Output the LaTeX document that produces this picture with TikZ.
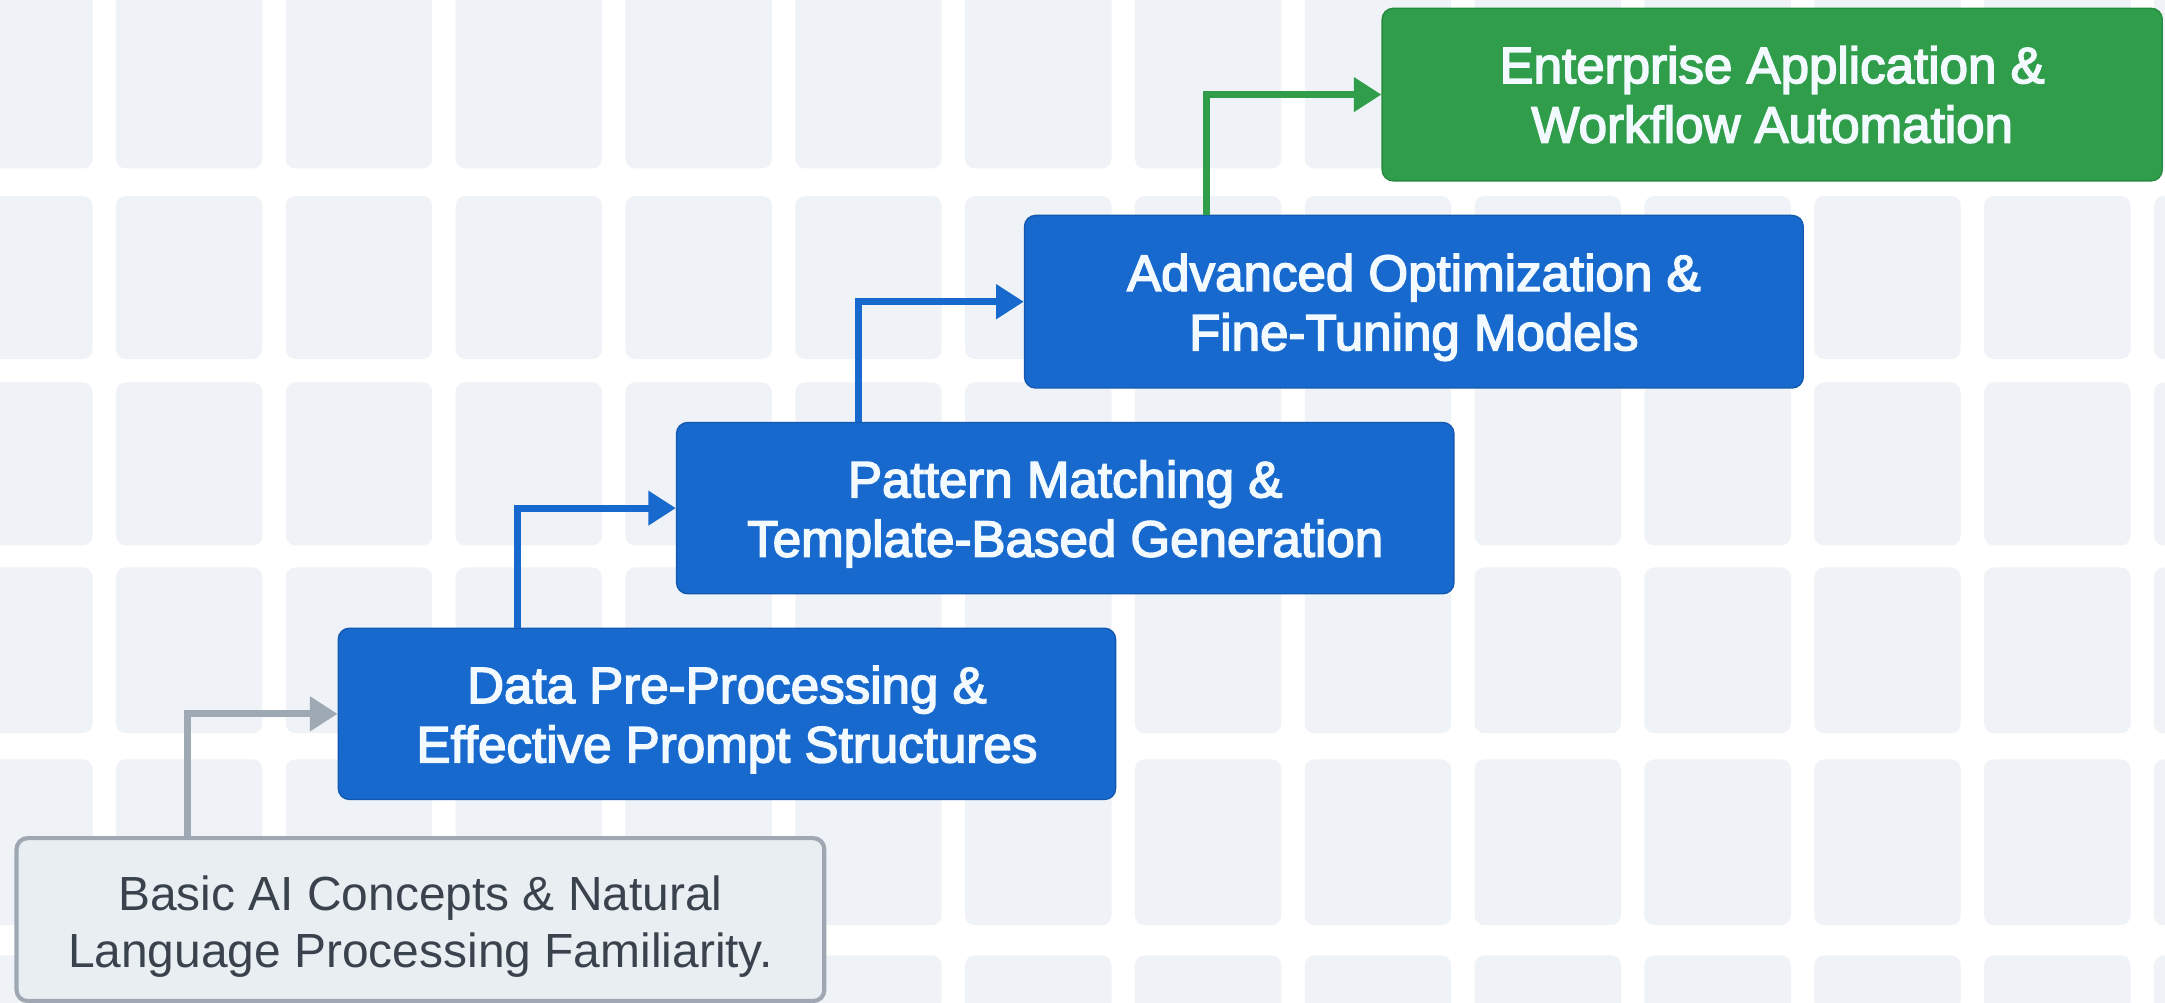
\documentclass[tikz,border=0pt]{standalone}
\usepackage{fontspec}
\setmainfont{Liberation Sans}
\newfontfamily\semib[FakeBold=3]{Liberation Sans}
\usetikzlibrary{arrows.meta}
\definecolor{tilec}{HTML}{EFF2F6}
\definecolor{stepblue}{HTML}{1869CD}
\definecolor{stepblueD}{HTML}{1459B0}
\definecolor{stepgreen}{HTML}{2F9D4A}
\definecolor{stepgreenD}{HTML}{268A3F}
\definecolor{basefill}{HTML}{E9EEF3}
\definecolor{baseline}{HTML}{9FA8B2}
\definecolor{basetext}{HTML}{3A434D}
\definecolor{boxtext}{HTML}{F2FAFF}
\definecolor{grayarrow}{HTML}{9FA9B3}
\newcommand{\lowerstrut}{\rule{0pt}{35pt}}
\tikzset{
  stepbox/.style={rectangle, rounded corners=8pt, fill=stepblue, draw=stepblueD,
    line width=1pt, text=boxtext, align=center,
    font=\semib\fontsize{37}{43}\selectfont,
    minimum width=563pt, minimum height=124pt, inner sep=0pt},
  goalbox/.style={stepbox, fill=stepgreen, draw=stepgreenD},
  basebox/.style={rectangle, rounded corners=8pt, fill=basefill, draw=baseline,
    line width=3pt, text=basetext, align=center,
    font=\fontsize{34.7}{41}\selectfont,
    minimum width=585pt, minimum height=118pt, inner sep=0pt},
  flow/.style={line width=5pt, -{Triangle[length=20pt,width=24pt]}},
}
\begin{document}
\begin{tikzpicture}[x=1pt,y=-1pt]
\fill[white] (0,0) rectangle (1568,726);
\useasboundingbox (0,0) rectangle (1568,726);
\begin{scope}
\clip (0,0) rectangle (1568,726);
\foreach \c in {-1,...,12}{
  \foreach \t/\h in {-30/152, 142/118, 277/118, 411/120, 550/120, 692/122}{
    \fill[tilec, rounded corners=7pt] ({84+123*\c},\t) rectangle ++(106,\h);
  }
}
\node[basebox] (b1) at (304.5,666) {\lowerstrut Basic AI Concepts \& Natural\\Language Processing Familiarity.};
\node[stepbox] (b2) at (526.5,517) {\lowerstrut Data Pre-Processing \&\\Effective Prompt Structures};
\node[stepbox] (b3) at (771.5,368) {\lowerstrut Pattern Matching \&\\Template-Based Generation};
\node[stepbox, minimum width=564pt, minimum height=125pt] (b4) at (1024,218.5) {\lowerstrut Advanced Optimization \&\\Fine-Tuning Models};
\node[goalbox, minimum width=565pt, minimum height=125pt] (b5) at (1283.5,68.5) {Enterprise Application \&\\Workflow Automation};
\end{scope}
\draw[flow, grayarrow] ([xshift=125pt]b1.north west) |- (b2.west);
\draw[flow, stepblue] ([xshift=130pt]b2.north west) |- (b3.west);
\draw[flow, stepblue] ([xshift=132pt]b3.north west) |- (b4.west);
\draw[flow, stepgreen] ([xshift=132pt]b4.north west) |- (b5.west);
\end{tikzpicture}
\end{document}
